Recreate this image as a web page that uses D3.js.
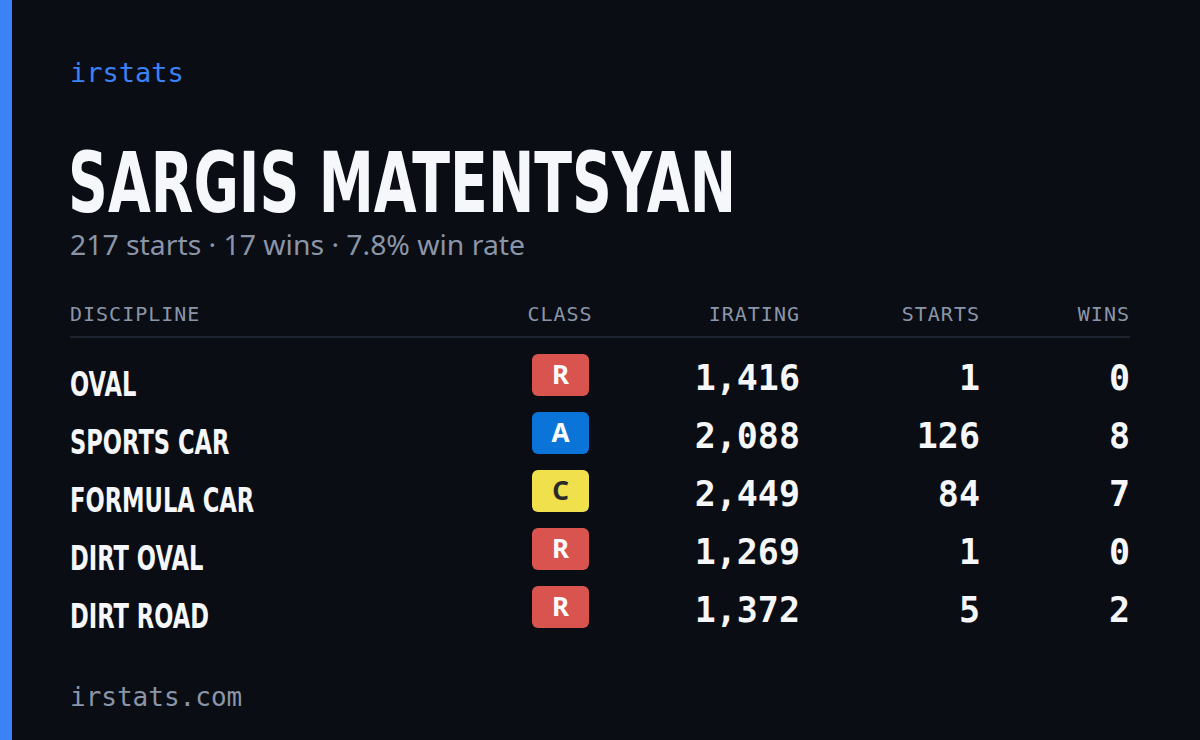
<!DOCTYPE html>
<html><head><meta charset="utf-8">
<script src="https://cdn.jsdelivr.net/npm/d3@7"></script>
<style>body{margin:0;background:#0a0d14}</style></head>
<body><svg id="c" width="1200" height="740"></svg>
<script>
const brand = "irstats";
const driver = "SARGIS MATENTSYAN";
const summary = "217 starts · 17 wins · 7.8% win rate";
const footer = "irstats.com";
const headers = ["DISCIPLINE","CLASS","IRATING","STARTS","WINS"];
const disciplines = ["OVAL","SPORTS CAR","FORMULA CAR","DIRT OVAL","DIRT ROAD"];
const classes = ["R","A","C","R","R"];
const iratings = [1416,2088,2449,1269,1372];
const starts = [1,126,84,1,5];
const wins = [0,8,7,0,2];

const classColor = {R:"#d9534f",A:"#0b74d8",C:"#efe04c"};
const classText = {R:"#ffffff",A:"#ffffff",C:"#2a2a2a"};
const svg = d3.select("#c");
const cond = "'DejaVu Sans',sans-serif";
const mono = "'DejaVu Sans Mono','Liberation Mono',monospace";
const sx = 0.72, rsx = 0.665;
svg.append("rect").attr("width",1200).attr("height",740).attr("fill","#0a0d14");
svg.append("rect").attr("width",12).attr("height",740).attr("fill","#3b82f6");
svg.append("text").attr("x",70).attr("y",82).text(brand).attr("fill","#3b82f6")
  .attr("font-family",mono).attr("font-size",27);
svg.append("text").attr("transform",`translate(68,212) scale(${sx},1)`).text(driver).attr("fill","#f5f7fa")
  .attr("font-family",cond).attr("font-weight","bold").attr("font-size",83)
  .attr("textLength",668/sx).attr("lengthAdjust","spacingAndGlyphs");
svg.append("text").attr("x",70).attr("y",255).text(summary).attr("fill","#8b95a8")
  .attr("font-family","'Noto Sans',sans-serif").attr("font-size",27)
  .attr("textLength",455).attr("lengthAdjust","spacingAndGlyphs");

const colX = [70,560,800,980,1130];
const anchors = ["start","middle","end","end","end"];
headers.forEach((h,i)=>svg.append("text").attr("x",colX[i]).attr("y",321).attr("text-anchor",anchors[i])
  .text(h).attr("fill","#8b95a8").attr("font-family",mono).attr("font-size",20).attr("letter-spacing",1));
svg.append("line").attr("x1",70).attr("x2",1130).attr("y1",337).attr("y2",337).attr("stroke","#1e2430").attr("stroke-width",2);

const y = d3.scaleBand().domain(disciplines).range([346,636]);
const fmt = d3.format(",");
const g = svg.selectAll("g.row").data(disciplines).join("g").attr("transform",d=>`translate(0,${y(d)})`);
g.append("text").attr("transform",`translate(70,50) scale(${rsx},1)`).text(d=>d).attr("fill","#f5f7fa")
  .attr("font-family",cond).attr("font-weight","bold").attr("font-size",34);
g.append("rect").attr("x",532).attr("y",8).attr("width",57).attr("height",42).attr("rx",6)
  .attr("fill",(d,i)=>classColor[classes[i]]);
g.append("text").attr("x",560.5).attr("y",38).attr("text-anchor","middle").text((d,i)=>classes[i])
  .attr("fill",(d,i)=>classText[classes[i]]).attr("font-family","'Noto Sans',sans-serif").attr("font-weight","bold").attr("font-size",26);
[iratings.map(fmt),starts,wins].forEach((arr,k)=>{
  g.append("text").attr("x",colX[k+2]).attr("y",44).attr("text-anchor","end").text((d,i)=>arr[i])
   .attr("fill","#f5f7fa").attr("font-family",mono).attr("font-size",35).attr("font-weight","bold");
});
svg.append("text").attr("x",70).attr("y",706).text(footer).attr("fill","#8b95a8")
  .attr("font-family",mono).attr("font-size",26);
</script></body></html>
